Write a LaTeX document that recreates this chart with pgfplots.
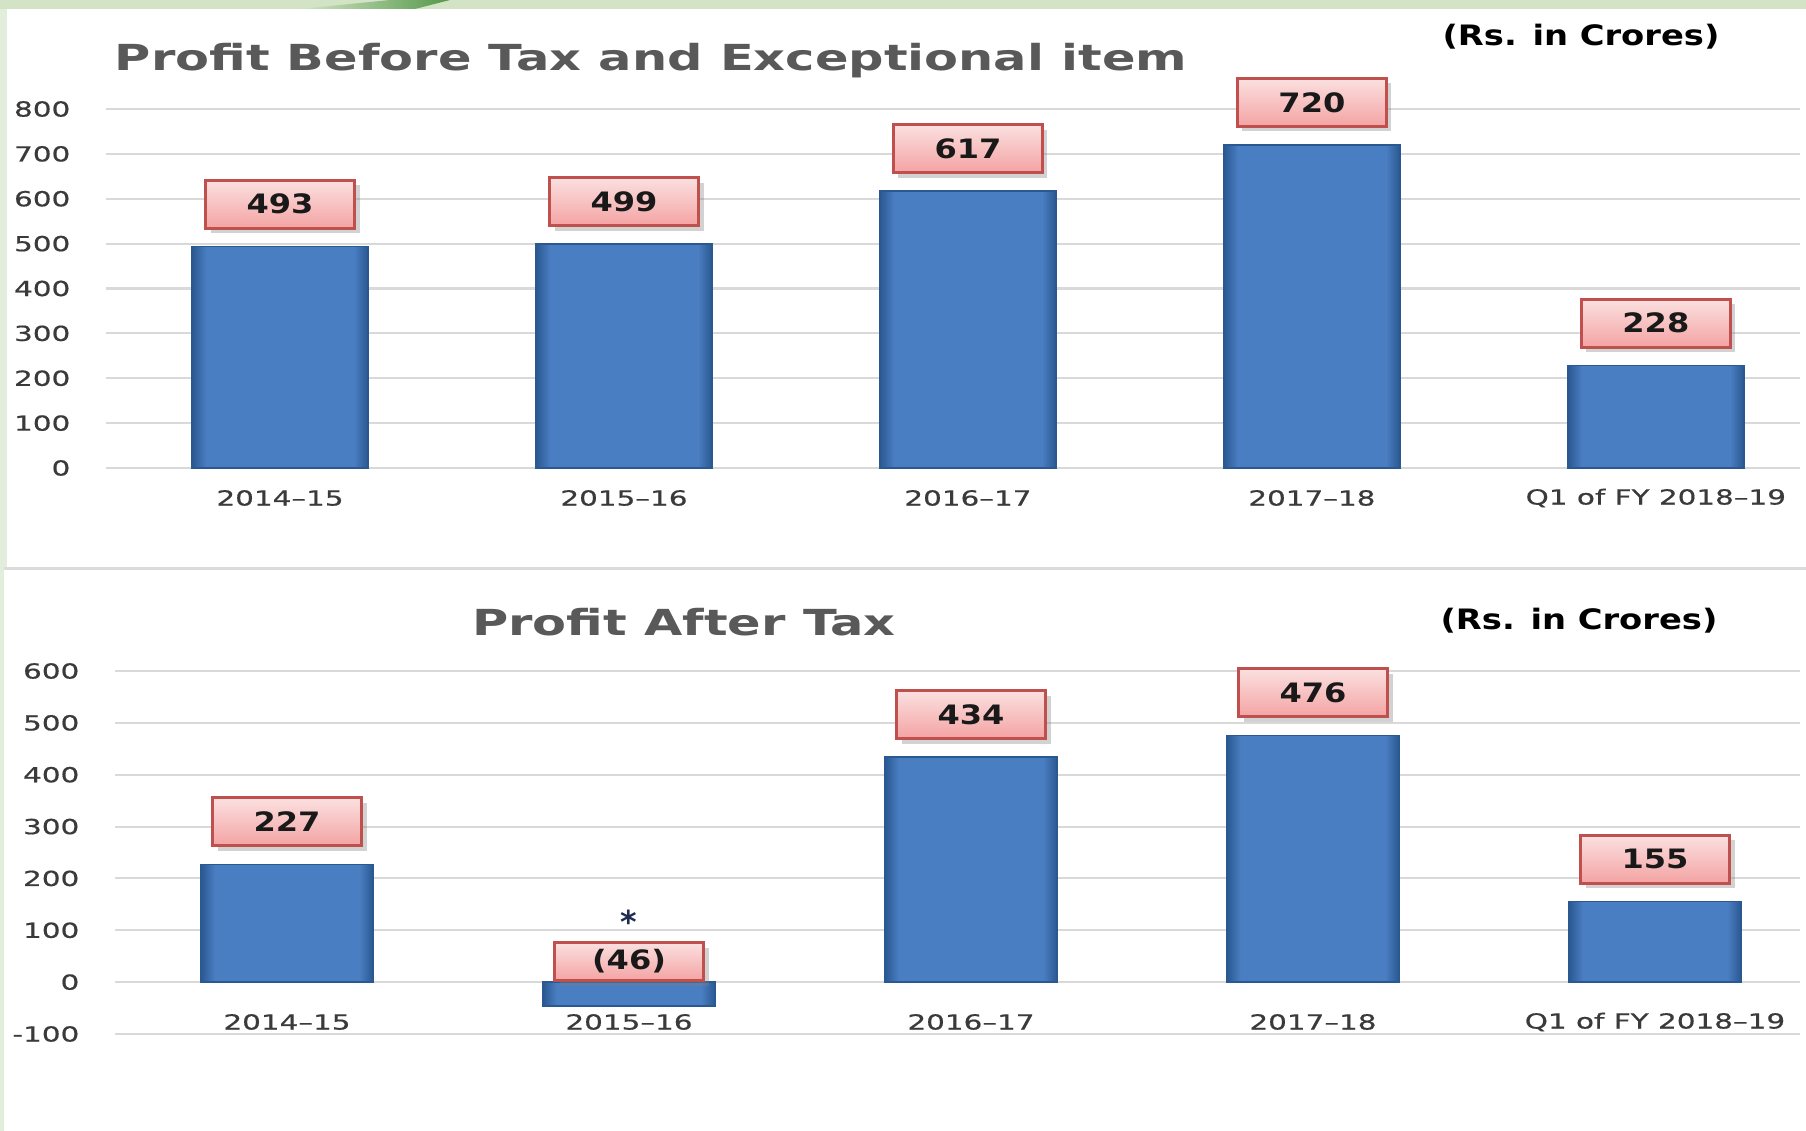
\documentclass[border=0pt]{standalone}
\usepackage{fontspec}
\setmainfont{DejaVu Sans}
\newfontfamily\tickfont[FakeStretch=1.42, FakeBold=0.6]{DejaVu Sans}
\newfontfamily\titlefont[FakeStretch=1.38]{DejaVu Sans}
\newfontfamily\lblfont[FakeStretch=1.2]{DejaVu Sans}
\usepackage{pgfplots}
\usepackage{pgfplotstable}
\pgfplotsset{compat=1.18}
\usetikzlibrary{shadows}

\definecolor{bdark}{HTML}{2A5891}
\definecolor{bmid}{HTML}{4A7EC2}
\definecolor{lblTop}{HTML}{FBE0E0}
\definecolor{lblBot}{HTML}{F4A3A3}
\definecolor{lblEdge}{HTML}{C0504D}
\definecolor{gridc}{HTML}{D9D9D9}
\definecolor{tickc}{HTML}{3A3A3A}
\definecolor{titlec}{HTML}{595959}
\definecolor{bgreen}{HTML}{E3EDDC}
\definecolor{stripg}{HTML}{D3E3C6}
\definecolor{darkg}{HTML}{55994A}
\definecolor{starc}{HTML}{1F2A50}

\pgfdeclarehorizontalshading{barshade}{100bp}{color(0bp)=(bdark); color(25bp)=(bdark); color(29bp)=(bmid); color(71bp)=(bmid); color(75bp)=(bdark); color(100bp)=(bdark)}

\pgfplotstableread{
x y
0 493
1 499
2 617
3 720
4 228
}\pbt
\pgfplotstableread{
x y
0 227
1 -46
2 434
3 476
4 155
}\pat

\tikzset{
  vlabel/.style={draw=lblEdge, line width=0.9pt, top color=lblTop, bottom color=lblBot,
    drop shadow={opacity=0.35, shadow xshift=0.05cm, shadow yshift=-0.05cm},
    minimum width=1.49cm, minimum height=0.48cm, inner sep=0pt,
    font=\lblfont\bfseries\fontsize{7.6}{9}\selectfont, text=black!90, anchor=south}
}
\pgfplotsset{
  panel/.style={scale only axis, clip=false,
    axis line style={draw=none}, major tick length=0pt,
    ymajorgrids, grid style={gridc, line width=0.6pt},
    xtick={0,...,4},
    xticklabels={2014–15,2015–16,2016–17,2017–18,Q1 of FY 2018–19},
    tick label style={font=\tickfont\fontsize{5.9}{7}\selectfont, text=tickc},
    /pgf/number format/assume math mode=true,
    yticklabel style={anchor=east, inner sep=0pt, xshift=-0.35cm}}
}

\begin{document}
\begin{tikzpicture}
\useasboundingbox (0,0) rectangle (18.06,11.31);
% background
\fill[bgreen] (0,0) rectangle (18.06,11.31);
\fill[stripg] (0,11.22) rectangle (18.06,11.31);
\shade[left color=stripg, right color=darkg] (3.0,11.22) -- (4.15,11.22) -- (4.5,11.31) -- (3.9,11.31) -- cycle;
\fill[white] (0.07,5.64) rectangle (18.06,11.22);
\fill[gray!28] (0.04,5.61) rectangle (18.06,5.64);
\fill[white] (0.04,0) rectangle (18.06,5.61);

% titles
\node[font=\titlefont\bfseries\fontsize{10.2}{12}\selectfont, text=titlec] at (6.51,10.70) {Profit Before Tax and Exceptional item};
\node[font=\lblfont\bfseries\fontsize{8}{10}\selectfont] at (15.81,10.94) {(Rs. in Crores)};
\node[font=\titlefont\bfseries\fontsize{10.2}{12}\selectfont, text=titlec] at (6.84,5.09) {Profit After Tax};
\node[font=\lblfont\bfseries\fontsize{8}{10}\selectfont] at (15.79,5.10) {(Rs. in Crores)};

\begin{axis}[panel, at={(1.06cm,6.63cm)}, anchor=south west,
  width=16.94cm, height=3.59cm, xmin=-0.506, xmax=4.419,
  ymin=0, ymax=800, ytick={0,100,...,800},
  xticklabel style={anchor=center, inner sep=0pt, yshift=-0.30cm}]
\pgfplotsinvokeforeach{0,...,4}{
  \addplot[ybar, bar width=1.76cm, draw=bdark, line width=0.4pt, shading=barshade,
    restrict expr to domain={\coordindex}{#1:#1}] table[x=x, y=y] {\pbt};
}
\addplot[draw=none, point meta=explicit symbolic, nodes near coords,
  every node near coord/.style={vlabel, yshift=0.17cm}]
  coordinates {(0,493)[493] (1,499)[499] (2,617)[617] (3,720)[720] (4,228)[228]};
\end{axis}

\begin{axis}[panel, at={(1.15cm,0.97cm)}, anchor=south west,
  width=16.85cm, height=3.63cm, xmin=-0.503, xmax=4.424,
  ymin=-100, ymax=600, ytick={-100,0,...,600},
  xticklabel style={anchor=center, inner sep=0pt, yshift=0.12cm}]
\pgfplotsinvokeforeach{0,...,4}{
  \addplot[ybar, bar width=1.72cm, draw=bdark, line width=0.4pt, shading=barshade,
    restrict expr to domain={\coordindex}{#1:#1}] table[x=x, y=y] {\pat};
}
\addplot[draw=none, point meta=explicit symbolic, nodes near coords,
  every node near coord/.style={vlabel, yshift=0.17cm}]
  coordinates {(0,227)[227] (2,434)[434] (3,476)[476] (4,155)[155]};
\addplot[draw=none, point meta=explicit symbolic, nodes near coords,
  every node near coord/.style={vlabel, minimum height=0.38cm, yshift=0cm}]
  coordinates {(1,0)[(46)]};
\addplot[draw=none, point meta=explicit symbolic, nodes near coords,
  every node near coord/.style={anchor=center, yshift=0.60cm, text=starc, font=\bfseries\fontsize{9}{10}\selectfont}]
  coordinates {(1,0)[*]};
\end{axis}
\end{tikzpicture}
\end{document}
